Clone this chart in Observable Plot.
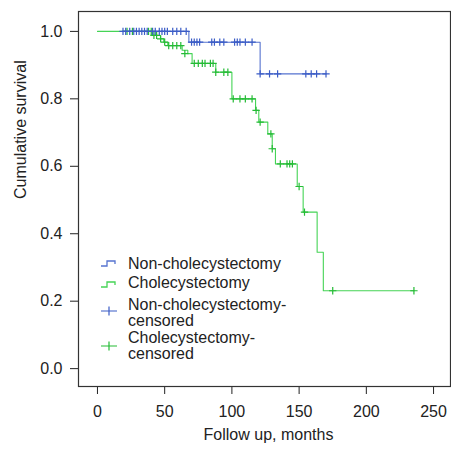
<!DOCTYPE html>
<html><head><meta charset="utf-8">
<script src="https://cdn.jsdelivr.net/npm/d3@7"></script>
<script src="https://cdn.jsdelivr.net/npm/@observablehq/plot@0.6"></script>
<style>
body{margin:0;background:#fff;}
#wrap{position:relative;width:451px;height:451px;font-family:"Liberation Sans",Arial,sans-serif;}
#legend{position:absolute;left:0;top:0;pointer-events:none;}
</style></head><body><div id="wrap"></div>
<script>
// Step curves (time in months, cumulative survival)
const nonTimes = [19, 68, 121, 170];
const nonSurv  = [1.0, 0.968, 0.874, 0.874];
const cholTimes = [0, 40.7, 46.9, 49.3, 52.3, 63, 67.2, 70.4, 88, 100, 117.6, 120, 126.7, 130, 132.4, 148.6, 153, 163.4, 168, 235.4];
const cholSurv  = [1.0, 0.988, 0.978, 0.968, 0.958, 0.944, 0.934, 0.905, 0.879, 0.80, 0.766, 0.731, 0.696, 0.652, 0.607, 0.540, 0.464, 0.345, 0.231, 0.231];

// Censored observations
const nonCensTimes = [19, 21, 24, 27, 29, 31, 33, 35, 37, 41, 43, 46, 48, 50, 52, 56, 59, 62, 66,
                      70, 72, 74, 76, 85, 87, 91, 94, 102, 104, 106, 110, 115,
                      121, 128, 134, 155, 159, 163, 170];
const nonCensSurv  = [1, 1, 1, 1, 1, 1, 1, 1, 1, 1, 1, 1, 1, 1, 1, 1, 1, 1, 1,
                      0.968, 0.968, 0.968, 0.968, 0.968, 0.968, 0.968, 0.968, 0.968, 0.968, 0.968, 0.968, 0.968,
                      0.874, 0.874, 0.874, 0.874, 0.874, 0.874, 0.874];
const cholCensTimes = [22, 26, 38, 40, 42, 44, 47, 50, 53, 56, 59, 62, 65,
                       72, 75, 78, 80, 84, 86, 88, 94, 97, 101, 106, 110, 115,
                       118, 121, 129, 130, 136, 141, 143, 145, 150, 154, 175, 235.4];
const cholCensSurv  = [1, 1, 1, 1, 0.988, 0.988, 0.978, 0.968, 0.958, 0.958, 0.958, 0.958, 0.934,
                       0.905, 0.905, 0.905, 0.905, 0.905, 0.905, 0.879, 0.879, 0.879, 0.80, 0.80, 0.80, 0.80,
                       0.766, 0.731, 0.696, 0.652, 0.607, 0.607, 0.607, 0.607, 0.540, 0.464, 0.231, 0.231];

const xTicks = [0, 50, 100, 150, 200, 250];
const yTicks = [0, 0.2, 0.4, 0.6, 0.8, 1.0];
const legendLabels = [["Non-cholecystectomy"], ["Cholecystectomy"], ["Non-cholecystectomy-", "censored"], ["Cholecystectomy-", "censored"]];
const xLabel = "Follow up, months";
const yLabel = "Cumulative survival";

const blue = "#5573cf", blueDark = "#3b5cc6";
const green = "#45d456", greenDark = "#24bb35";
const font = "'Liberation Sans', Arial, sans-serif";

const zip = (a, b) => a.map((t, i) => ({t, s: b[i]}));
const nonLine = zip(nonTimes, nonSurv);
const cholLine = zip(cholTimes, cholSurv);
const nonCens = zip(nonCensTimes, nonCensSurv);
const cholCens = zip(cholCensTimes, cholCensSurv);

const chart = Plot.plot({
  width: 451, height: 451,
  marginLeft: 78, marginRight: 1, marginTop: 11, marginBottom: 65,
  style: {fontFamily: font, fontSize: "16px", color: "#222", background: "#fff"},
  x: {domain: [-14.1, 262.6], ticks: xTicks, tickSize: 8, tickPadding: 11, label: null},
  y: {domain: [-0.053, 1.059], ticks: yTicks, tickFormat: d3.format(".1f"), tickSize: 8, tickPadding: 8, label: null},
  marks: [
    Plot.frame({stroke: "#333", strokeWidth: 1.2}),
    Plot.line(cholLine, {x: "t", y: "s", curve: "step-after", stroke: green, strokeWidth: 1.1}),
    Plot.dot(cholCens, {x: "t", y: "s", symbol: "plus", r: 2.5, stroke: greenDark, strokeWidth: 1.2}),
    Plot.line(nonLine, {x: "t", y: "s", curve: "step-after", stroke: blue, strokeWidth: 1.1}),
    Plot.dot(nonCens, {x: "t", y: "s", symbol: "plus", r: 2.5, stroke: blueDark, strokeWidth: 1.2}),
    Plot.text([xLabel], {frameAnchor: "bottom", dy: 53, dx: 4, fontSize: 16, fill: "#222"}),
    Plot.text([yLabel], {frameAnchor: "left", rotate: -90, dx: -58, fontSize: 16, fill: "#222"})
  ]
});
const wrap = document.getElementById("wrap");
wrap.appendChild(chart);

// Legend overlay
const svg = d3.select(wrap).append("svg").attr("id", "legend").attr("width", 451).attr("height", 451)
  .style("font-family", font).style("font-size", "16px");
const rows = [
  {type: "line", color: blue, iconY: 264, base: [269]},
  {type: "line", color: green, iconY: 285, base: [288]},
  {type: "plus", color: blueDark, iconY: 311, base: [310, 326]},
  {type: "plus", color: greenDark, iconY: 346, base: [343, 359]}
];
rows.forEach((r, i) => {
  if (r.type === "line") {
    svg.append("path").attr("d", `M101,${r.iconY + 2} h6 v-5 h8 v3`).attr("fill", "none").attr("stroke", r.color).attr("stroke-width", 1.3);
  } else {
    svg.append("path").attr("d", `M101,${r.iconY} H117 M109,${r.iconY - 4.5} V${r.iconY + 4.5}`).attr("fill", "none").attr("stroke", r.color).attr("stroke-width", 1.2);
  }
  legendLabels[i].forEach((txt, j) => {
    svg.append("text").attr("x", 128).attr("y", r.base[j]).attr("fill", "#222").text(txt);
  });
});
</script>
</body></html>
